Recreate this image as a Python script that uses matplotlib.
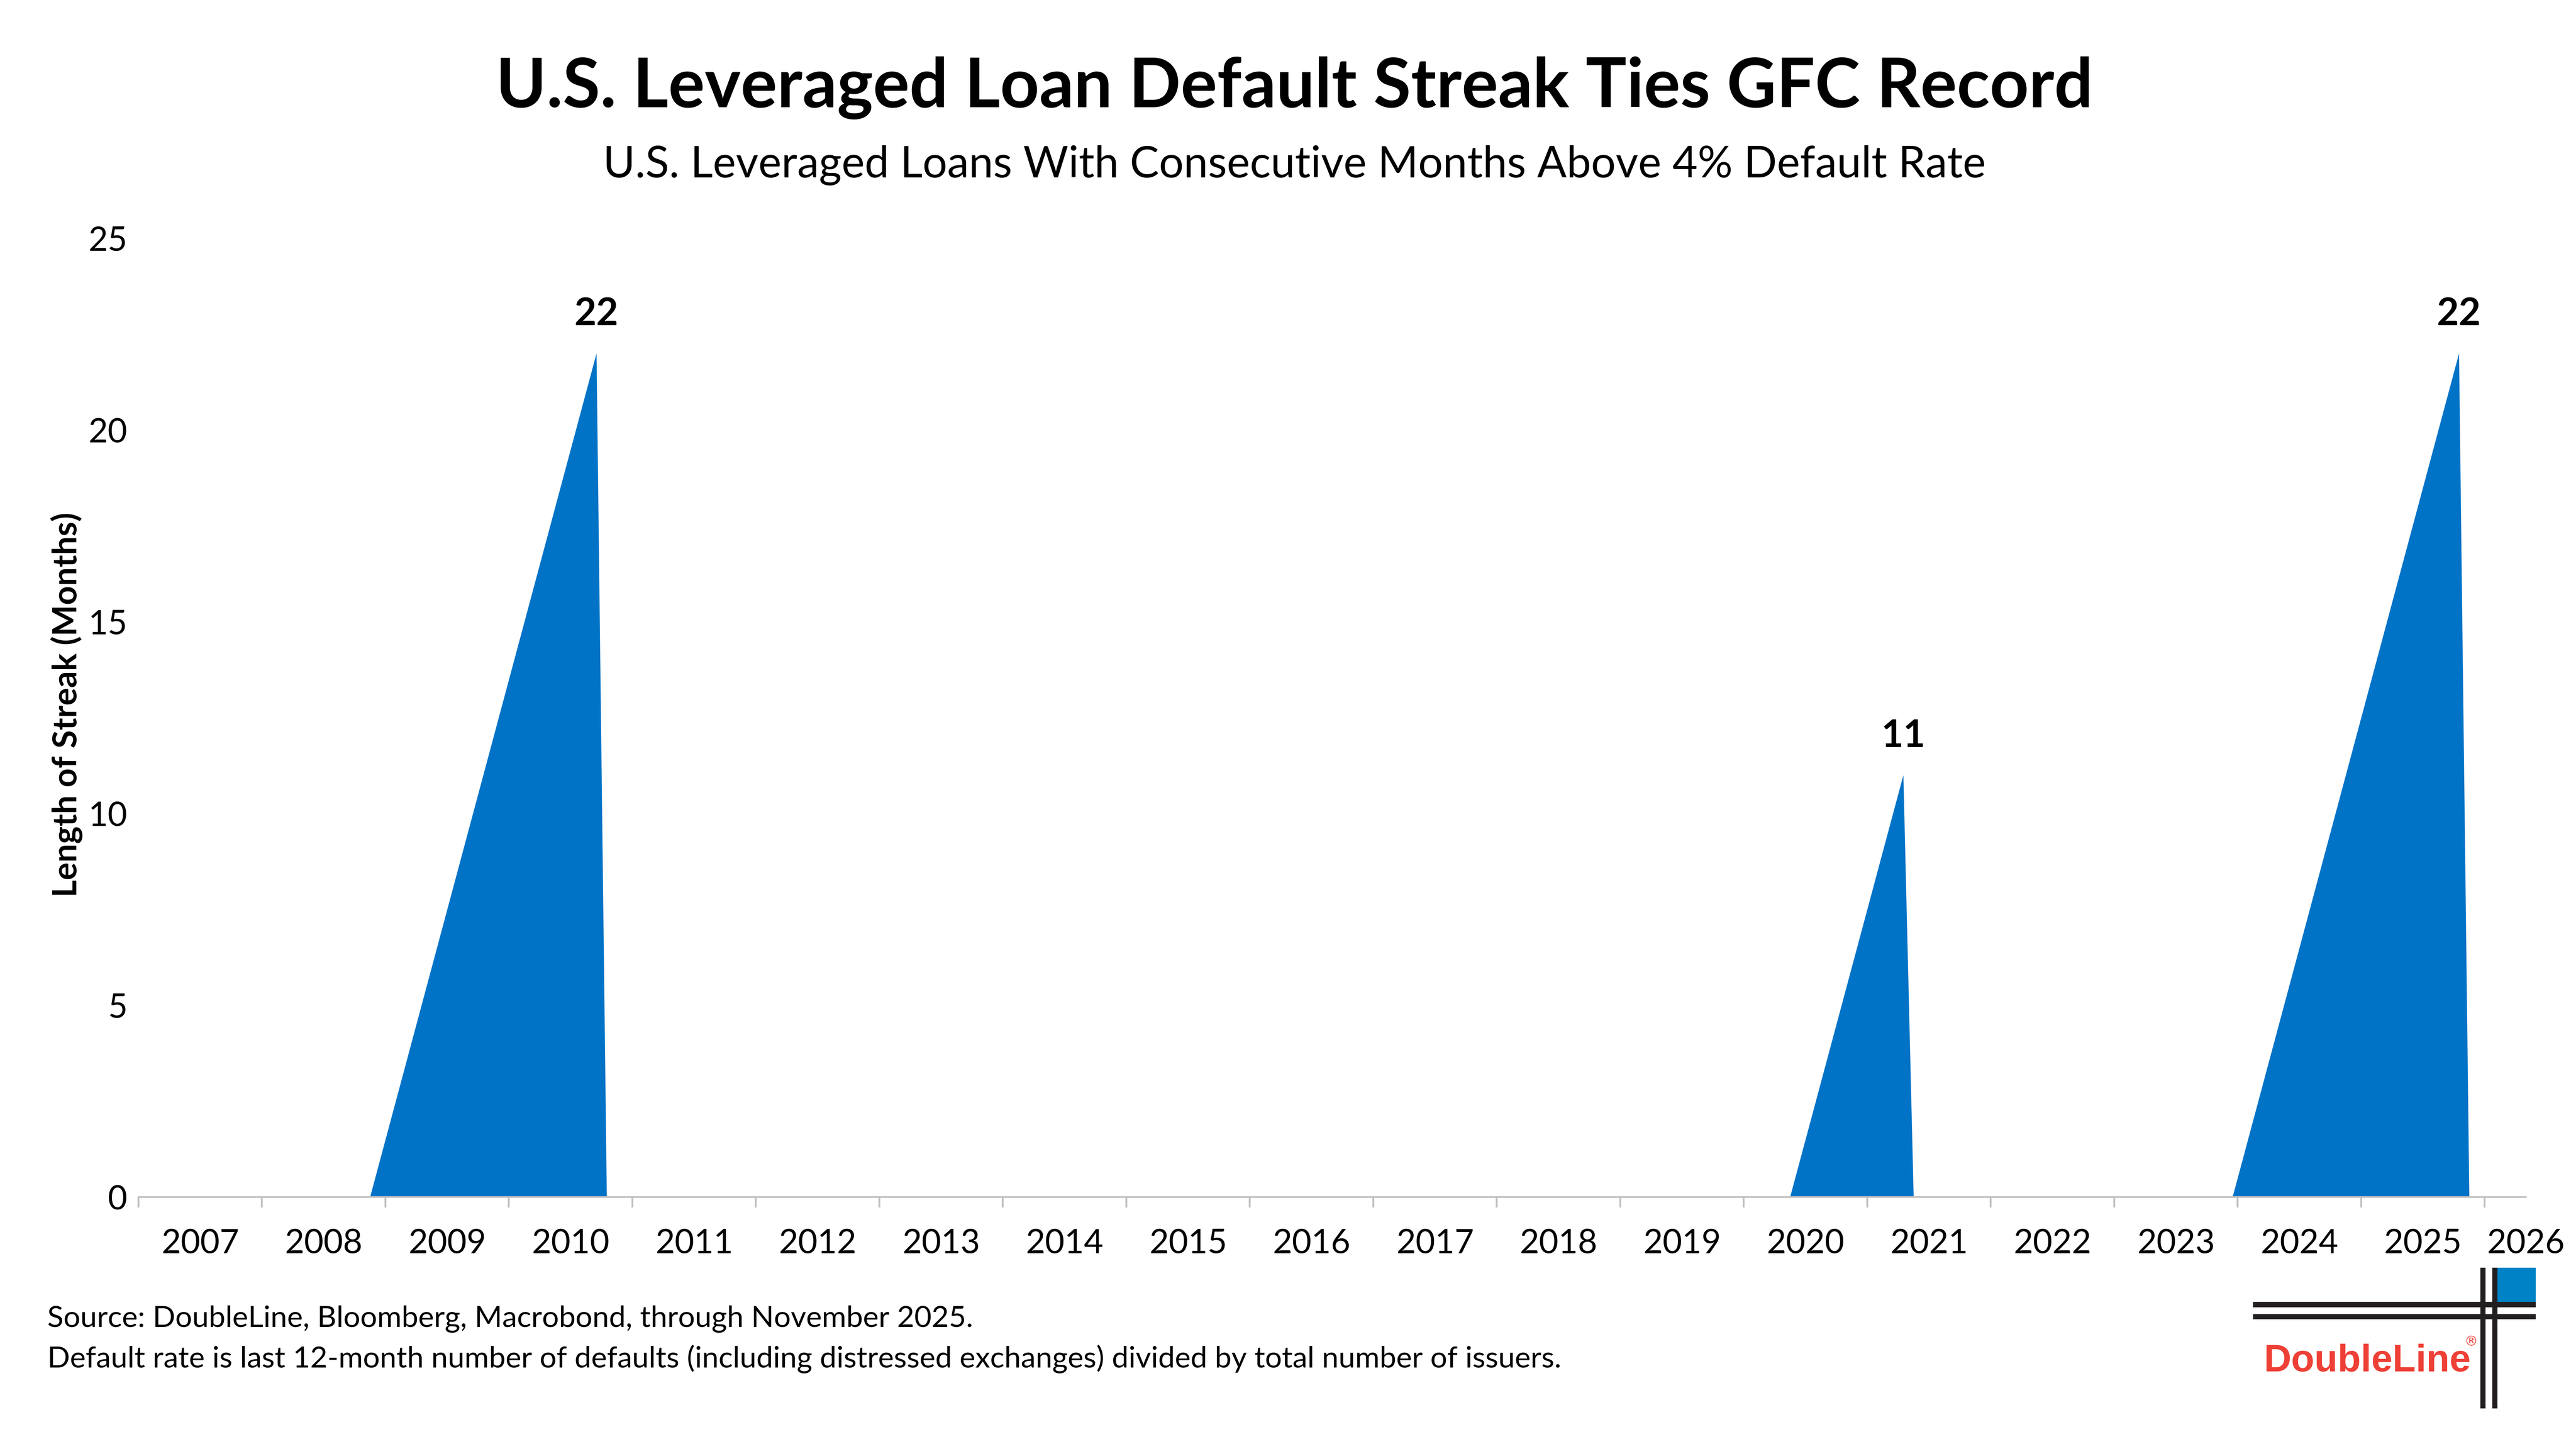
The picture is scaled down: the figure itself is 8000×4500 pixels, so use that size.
import numpy as np
import pandas as pd
import matplotlib
matplotlib.use("Agg")
import matplotlib.pyplot as plt
from matplotlib.patches import Rectangle

plt.rcParams['font.family'] = ['Lato', 'DejaVu Sans']

# monthly data range of the series
first_month = "2007-01"
last_month = "2025-11"

# running count of consecutive months above a 4% default rate
gfc_start = "2008-12"
gfc_streak = [1, 2, 3, 4, 5, 6, 7, 8, 9, 10, 11, 12, 13, 14, 15, 16, 17, 18, 19, 20, 21, 22]
covid_start = "2020-06"
covid_streak = [1, 2, 3, 4, 5, 6, 7, 8, 9, 10, 11]
current_start = "2024-01"
current_streak = [1, 2, 3, 4, 5, 6, 7, 8, 9, 10, 11, 12, 13, 14, 15, 16, 17, 18, 19, 20, 21, 22]

year_labels = list(range(2007, 2027))
y_ticks = [0, 5, 10, 15, 20, 25]

title = "U.S. Leveraged Loan Default Streak Ties GFC Record"
subtitle = "U.S. Leveraged Loans With Consecutive Months Above 4% Default Rate"
ylabel = "Length of Streak (Months)"
note1 = "Source: DoubleLine, Bloomberg, Macrobond, through November 2025."
note2 = ("Default rate is last 12-month number of defaults (including distressed exchanges) "
         "divided by total number of issuers.")

# build the monthly series (zero outside the streaks)
months = pd.period_range(first_month, last_month, freq="M")
streak = pd.Series(0, index=months, dtype=float)
for start, vals in [(gfc_start, gfc_streak), (covid_start, covid_streak),
                    (current_start, current_streak)]:
    idx = pd.period_range(start, periods=len(vals), freq="M")
    streak.loc[idx] = vals

# month midpoints as fractional years
x = np.array([p.year + (p.month - 0.5) / 12 for p in months])
y = streak.values

blue = "#0173C7"
grey = "#BFBFBF"

fig = plt.figure(figsize=(16, 9), dpi=500)
ax = fig.add_axes([0.05375, 0.174, 0.92675, 0.6616])

ax.fill_between(x, y, 0, color=blue, linewidth=0)

xmax = 2026 + 1 / 3
ax.set_xlim(2007, xmax)
ax.set_ylim(0, 25)

# labels for the streak peaks
for start, vals in [(gfc_start, gfc_streak), (covid_start, covid_streak),
                    (current_start, current_streak)]:
    p = pd.Period(start, freq="M") + (len(vals) - 1)
    px = p.year + (p.month - 0.5) / 12
    ax.annotate(str(max(vals)), (px, max(vals)), xytext=(0, 12.5),
                textcoords="offset points", ha="center", va="baseline",
                fontsize=17, fontweight="bold", color="black")

# x axis: ticks at year boundaries, labels in the middle of each year
ax.set_xticks(year_labels)
ax.set_xticklabels([])
ax.tick_params(axis="x", which="major", length=4.8, width=0.8, color=grey)
mids = [min(yr + 0.5, xmax) for yr in year_labels]
ax.set_xticks(mids, minor=True)
ax.set_xticklabels([str(yr) for yr in year_labels], minor=True)
ax.tick_params(axis="x", which="minor", length=0, pad=14, labelsize=15)

ax.set_yticks(y_ticks)
ax.set_yticklabels([str(v) for v in y_ticks])
ax.tick_params(axis="y", length=0, pad=5, labelsize=15)

for side in ["top", "right", "left"]:
    ax.spines[side].set_visible(False)
ax.spines["bottom"].set_color(grey)
ax.spines["bottom"].set_linewidth(0.75)

fig.text(0.0258, 0.5137, ylabel, rotation=90, ha="center", va="center",
         fontsize=14.8, fontweight="bold")

fig.text(0.5025, 0.9393, title, ha="center", va="center",
         fontsize=30.5, fontweight="bold")
fig.text(0.5025, 0.886, subtitle, ha="center", va="center", fontsize=19.5)

fig.text(0.0184, 0.0896, note1, ha="left", va="center", fontsize=13.3)
fig.text(0.0184, 0.0622, note2, ha="left", va="center", fontsize=13.3)

# DoubleLine logo
logo_dark = "#231F20"
logo_blue = "#0082C6"
logo_red = "#EE4036"
for r in [
    (0.8746, 0.09778, 0.10975, 0.00378, logo_dark),
    (0.8746, 0.08956, 0.10975, 0.00356, logo_dark),
    (0.9629, 0.0280, 0.0020, 0.0971, logo_dark),
    (0.9675, 0.0280, 0.0020, 0.0971, logo_dark),
    (0.9695, 0.10156, 0.014875, 0.02356, logo_blue),
]:
    fig.patches.append(Rectangle((r[0], r[1]), r[2], r[3], transform=fig.transFigure,
                                 facecolor=r[4], edgecolor="none"))
fig.text(0.8788, 0.0536, "DoubleLine", ha="left", va="baseline", fontsize=17.0,
         fontweight="bold", color=logo_red, family="Liberation Sans")
fig.text(0.9592, 0.0740, "®", ha="center", va="center", fontsize=6,
         color=logo_red, family="DejaVu Sans")

fig.savefig("out.png", dpi=500)
